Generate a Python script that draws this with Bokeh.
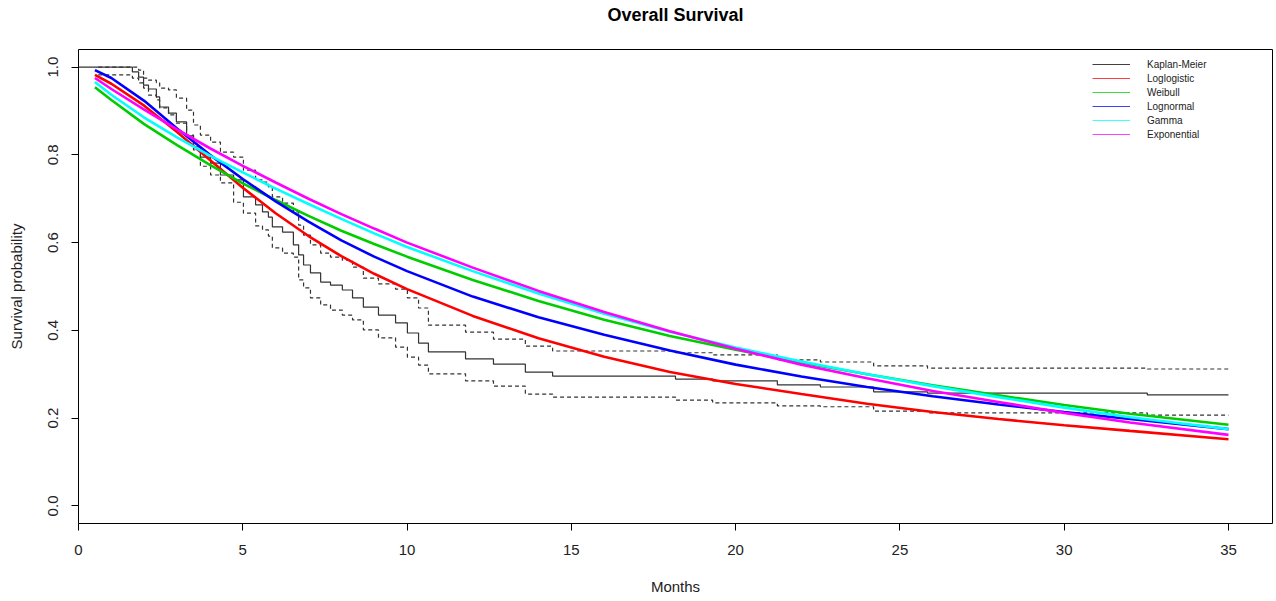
from bokeh.plotting import figure
from bokeh.models import FixedTicker, Legend, LegendItem, Title
from bokeh.embed import file_html
from bokeh.resources import INLINE

# ---------------- data ----------------
# Kaplan-Meier event times (months) and survival after each event
km_time = [1.64, 1.83, 1.98, 2.13, 2.37, 2.47, 2.74, 2.98, 3.29, 3.50, 3.71, 4.02, 4.32, 4.72,
           5.02, 5.39, 5.60, 5.78, 5.90, 6.21, 6.54, 6.70, 6.85, 7.06, 7.37, 7.67, 8.03, 8.34,
           8.67, 9.13, 9.65, 10.01, 10.35, 10.65, 11.78, 12.63, 13.60, 14.43, 18.17, 19.30,
           21.27, 22.58, 24.20, 25.84, 32.53]
km_surv = [0.989, 0.977, 0.959, 0.950, 0.932, 0.909, 0.895, 0.875, 0.843, 0.818, 0.795, 0.781,
           0.754, 0.743, 0.704, 0.686, 0.670, 0.658, 0.636, 0.624, 0.595, 0.572, 0.549, 0.531,
           0.510, 0.503, 0.492, 0.474, 0.453, 0.435, 0.417, 0.394, 0.371, 0.351, 0.335, 0.323,
           0.305, 0.296, 0.289, 0.285, 0.276, 0.271, 0.260, 0.257, 0.253]
km_upper = [1.000, 0.993, 0.975, 0.970, 0.964, 0.952, 0.948, 0.929, 0.902, 0.868, 0.845, 0.829,
            0.806, 0.795, 0.765, 0.743, 0.738, 0.727, 0.704, 0.690, 0.670, 0.640, 0.617, 0.595,
            0.576, 0.567, 0.560, 0.544, 0.519, 0.506, 0.494, 0.474, 0.451, 0.412, 0.396, 0.380,
            0.364, 0.353, 0.349, 0.344, 0.333, 0.328, 0.319, 0.314, 0.312]
km_lower = [0.975, 0.964, 0.952, 0.936, 0.925, 0.907, 0.891, 0.872, 0.845, 0.811, 0.774, 0.754,
            0.736, 0.692, 0.667, 0.638, 0.629, 0.615, 0.588, 0.576, 0.567, 0.515, 0.497, 0.474,
            0.458, 0.446, 0.435, 0.424, 0.401, 0.383, 0.362, 0.339, 0.321, 0.301, 0.285, 0.273,
            0.255, 0.248, 0.241, 0.235, 0.228, 0.226, 0.216, 0.212, 0.207]
km_start = 0.0
ci_start = 0.6
ci_lower_start = 0.982
follow_end = 35.0

# fitted parametric survival curves
fit_time = [0.5, 1, 2, 3, 4, 5, 6, 7, 8, 9, 10, 12, 14, 16, 18, 20, 22, 24, 26, 28, 30, 32, 35]
loglogistic = [0.982, 0.962, 0.912, 0.852, 0.788, 0.725, 0.667, 0.615, 0.569, 0.529, 0.494,
               0.433, 0.382, 0.340, 0.305, 0.278, 0.255, 0.233, 0.214, 0.198, 0.184, 0.171, 0.152]
weibull = [0.954, 0.925, 0.870, 0.822, 0.777, 0.735, 0.697, 0.661, 0.627, 0.597, 0.568,
           0.515, 0.467, 0.424, 0.387, 0.356, 0.327, 0.300, 0.275, 0.252, 0.230, 0.210, 0.185]
lognormal = [0.993, 0.975, 0.923, 0.860, 0.800, 0.745, 0.694, 0.648, 0.605, 0.568, 0.535,
             0.477, 0.430, 0.390, 0.354, 0.322, 0.295, 0.271, 0.250, 0.231, 0.214, 0.198, 0.175]
gamma = [0.966, 0.937, 0.885, 0.840, 0.798, 0.760, 0.723, 0.688, 0.654, 0.621, 0.590,
         0.535, 0.484, 0.438, 0.397, 0.361, 0.329, 0.300, 0.273, 0.248, 0.224, 0.202, 0.175]
exponential = [0.975, 0.950, 0.903, 0.858, 0.815, 0.775, 0.737, 0.700, 0.665, 0.632, 0.600,
               0.543, 0.490, 0.442, 0.398, 0.358, 0.322, 0.291, 0.262, 0.237, 0.212, 0.190, 0.162]

series_names = ["Kaplan-Meier", "Loglogistic", "Weibull", "Lognormal", "Gamma", "Exponential"]
series_colors = ["#000000", "#FF0000", "#00CD00", "#0000FF", "#00FFFF", "#FF00FF"]

x_ticks = [0, 5, 10, 15, 20, 25, 30, 35]
y_ticks = [0.0, 0.2, 0.4, 0.6, 0.8, 1.0]
y_tick_labels = ["0.0", "0.2", "0.4", "0.6", "0.8", "1.0"]

FONT = "Liberation Sans"

# ---------------- figure ----------------
p = figure(width=1276, height=601, x_range=(0, 36.34), y_range=(-0.04, 1.04),
           output_backend="svg", toolbar_location=None,
           min_border_left=78, min_border_right=4, min_border_top=49, min_border_bottom=78)
p.grid.visible = False
p.outline_line_color = "#000000"
p.outline_line_width = 1
p.background_fill_color = "white"
p.border_fill_color = "white"

p.title.text = "Overall Survival"
p.title.align = "center"
p.title.text_font = FONT
p.title.text_font_size = "18px"
p.title.text_font_style = "bold"
p.title.text_color = "#000000"
p.title.standoff = 0
# blank spacer between the title and the plot box
p.add_layout(Title(text=" ", text_font_size="21px", standoff=0), "above")

# KM and confidence limits
p.step([km_start] + km_time + [follow_end], [1.0] + km_surv + [km_surv[-1]],
       mode="after", line_color="#333333", line_width=1.2)
p.step([ci_start] + km_time + [follow_end], [1.0] + km_upper + [km_upper[-1]],
       mode="after", line_color="#333333", line_width=1.2, line_dash="4 3")
p.step([ci_start] + km_time + [follow_end], [ci_lower_start] + km_lower + [km_lower[-1]],
       mode="after", line_color="#333333", line_width=1.2, line_dash="4 3")

fits = [loglogistic, weibull, lognormal, gamma, exponential]
for vals, col in zip(fits, series_colors[1:]):
    p.line(fit_time, vals, line_color=col, line_width=2.6)

# legend (thin sample lines, no box); renderers hold no visible data
nan = float("nan")
items = []
for name, col in zip(series_names, series_colors):
    r = p.line(x=[nan, nan], y=[nan, nan], line_color=col, line_width=1, line_alpha=0.75)
    items.append(LegendItem(label=name, renderers=[r]))
legend = Legend(items=items, location=(1014, 382), glyph_width=38, glyph_height=14,
                label_height=14, label_standoff=17, spacing=0, padding=0, margin=0,
                border_line_color=None, background_fill_alpha=0,
                label_text_font_size="10px", label_text_font=FONT, label_text_color="#222222")
p.add_layout(legend)

# axes
p.xaxis.ticker = FixedTicker(ticks=x_ticks)
p.yaxis.ticker = FixedTicker(ticks=y_ticks)
p.yaxis.major_label_overrides = {v: s for v, s in zip(y_ticks, y_tick_labels)}
for ax in (p.xaxis, p.yaxis):
    ax.axis_line_color = None
    ax.major_tick_in = 0
    ax.major_tick_out = 7
    ax.major_tick_line_color = "#000000"
    ax.minor_tick_line_color = None
    ax.major_label_text_font = FONT
    ax.major_label_text_font_size = "15px"
    ax.major_label_text_color = "#222222"
    ax.axis_label_text_font = FONT
    ax.axis_label_text_font_size = "15px"
    ax.axis_label_text_font_style = "normal"
    ax.axis_label_text_color = "#222222"
p.xaxis.axis_label = "Months"
p.yaxis.axis_label = "Survival probability"
p.xaxis.major_label_standoff = 14
p.xaxis.axis_label_standoff = 20
p.yaxis.major_label_orientation = "vertical"
p.yaxis.major_label_standoff = 13
p.yaxis.axis_label_standoff = 21

open("out.html", "w").write(file_html(p, INLINE))
